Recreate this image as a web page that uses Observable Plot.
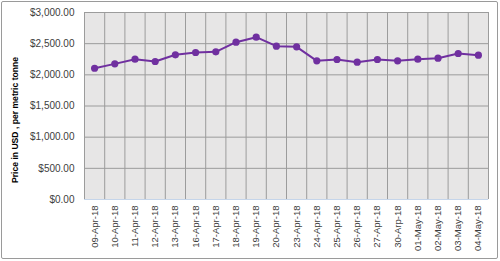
<!DOCTYPE html>
<html>
<head>
<meta charset="utf-8">
<script src="https://cdn.jsdelivr.net/npm/d3@7"></script>
<script src="https://cdn.jsdelivr.net/npm/@observablehq/plot@0.6"></script>
<style>
  html, body { margin: 0; padding: 0; background: #fff; }
  #wrap { position: relative; width: 500px; height: 261px; overflow: hidden; }
  #border { position: absolute; left: 1px; top: 1px; width: 495px; height: 256px; border: 1px solid #9a9a9a; border-radius: 2px; pointer-events: none; }
</style>
</head>
<body>
<div id="wrap"><div id="border"></div></div>
<script>
const dates = ["09-Apr-18","10-Apr-18","11-Apr-18","12-Apr-18","13-Apr-18","16-Apr-18","17-Apr-18","18-Apr-18","19-Apr-18","20-Apr-18","23-Apr-18","24-Apr-18","25-Apr-18","26-Apr-18","27-Apr-18","30-Arp-18","01-May-18","02-May-18","03-May-18","04-May-18"];
const prices = [2106, 2176, 2251, 2214, 2321, 2358, 2369, 2524, 2604, 2460, 2449, 2225, 2246, 2203, 2246, 2225, 2251, 2267, 2342, 2315];
const yTicks = [0, 500, 1000, 1500, 2000, 2500, 3000];
const yLabel = "Price in USD , per metric tonne";

const data = dates.map((d, i) => ({date: d, idx: i + 0.5, price: prices[i]}));
const centers = dates.map((d, i) => i + 0.5);
const bounds = d3.range(dates.length + 1);

const chart = Plot.plot({
  width: 500,
  height: 261,
  marginLeft: 84,
  marginRight: 12,
  marginTop: 12,
  marginBottom: 62,
  style: {fontFamily: "Liberation Sans, Arial, sans-serif", fontSize: "9.5px", color: "#404040", background: "transparent", overflow: "visible"},
  x: {type: "linear", domain: [0, dates.length], axis: null},
  y: {domain: [0, 3000], axis: null},
  marks: [
    Plot.frame({fill: "#e7e6e6", stroke: null}),
    Plot.gridY(yTicks, {stroke: "#9c9c9c", strokeOpacity: 1, strokeWidth: 1}),
    Plot.ruleX(bounds, {stroke: "#9c9c9c", strokeWidth: 1}),
    Plot.ruleY([0], {stroke: "#c5d5ea", strokeWidth: 1}),
    Plot.axisY(yTicks, {
      tickSize: 0, tickPadding: 10, label: null,
      tickFormat: d => "$" + d3.format(",.2f")(d),
      fill: "#404040", fontSize: 10
    }),
    Plot.axisX(centers, {
      tickSize: 0, tickPadding: 6, tickRotate: -90, label: null,
      tickFormat: d => dates[Math.floor(d)],
      fill: "#404040", fontSize: 9.5
    }),
    Plot.line(data, {x: "idx", y: "price", stroke: "#7030a0", strokeWidth: 2}),
    Plot.dot(data, {x: "idx", y: "price", fill: "#7030a0", r: 3.6}),
    Plot.text([yLabel], {frameAnchor: "left", textAnchor: "middle", dx: -69, dy: 14, rotate: -90, text: d => d, fontWeight: "bold", fontSize: 8.6, fill: "#000"})
  ]
});
document.getElementById("wrap").insertBefore(chart, document.getElementById("border"));
</script>
</body>
</html>
